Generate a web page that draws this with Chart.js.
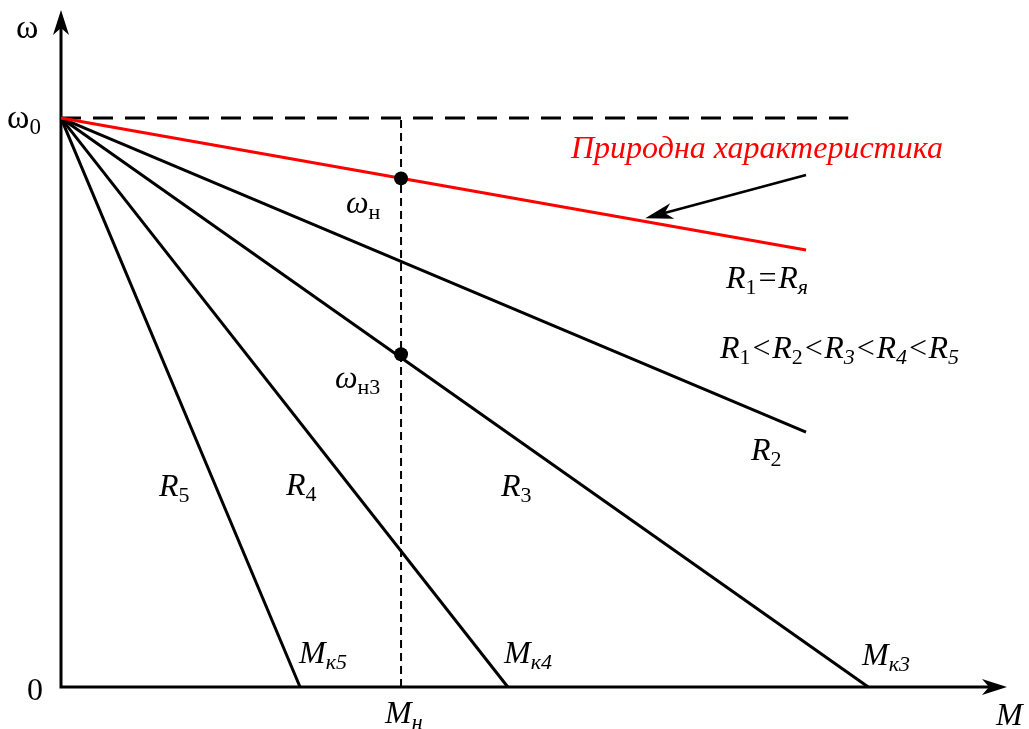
<!DOCTYPE html>
<html>
<head>
<meta charset="utf-8">
<script src="https://cdn.jsdelivr.net/npm/chart.js@4/dist/chart.umd.min.js"></script>
<style>
  html, body { margin: 0; padding: 0; background: #fff; }
  #wrap { width: 1029px; height: 729px; }
</style>
</head>
<body>
<div id="wrap"><canvas id="chart"></canvas></div>
<script>
// speed in units of ω0, torque in units of Mн
var omega0 = 1.0;
var ratedTorque = 1.0;
var lineNames = ['R1', 'R2', 'R3', 'R4', 'R5'];
var endTorque = [2.191, 2.191, 2.374, 1.314, 0.703];
var endSpeed = [0.768, 0.448, 0, 0, 0];
var lineColors = ['#ff0000', '#000000', '#000000', '#000000', '#000000'];
var ratedPointSpeed = [0.894, 0.585];   // ωн on R1, ωн3 on R3
var idealEndTorque = 2.315;             // dashed ω0 line
var axisEnd = { M: 2.782, w: 1.19 };
var pointerTail = { M: 2.191, w: 0.900 };
var pointerTip = { M: 1.718, w: 0.824 };

var SERIF = '"Liberation Serif", "DejaVu Serif", serif';

var datasets = [];
// characteristics, red one is the natural one
for (var i = 0; i < lineNames.length; i++) {
  datasets.push({
    label: lineNames[i],
    data: [{ x: 0, y: omega0 }, { x: endTorque[i], y: endSpeed[i] }],
    borderColor: lineColors[i],
    borderWidth: 3,
    pointRadius: 0,
    clip: false
  });
}
datasets.push({
  label: 'ideal',
  data: [{ x: 0, y: omega0 }, { x: idealEndTorque, y: omega0 }],
  borderColor: '#000',
  borderWidth: 3,
  borderDash: [20, 12],
  pointRadius: 0,
  clip: false
});
datasets.push({
  label: 'rated',
  data: [{ x: ratedTorque, y: 0 }, { x: ratedTorque, y: omega0 }],
  borderColor: '#000',
  borderWidth: 2,
  borderDash: [8, 5],
  pointRadius: 0,
  clip: false
});
datasets.push({
  label: 'points',
  data: [{ x: ratedTorque, y: ratedPointSpeed[0] }, { x: ratedTorque, y: ratedPointSpeed[1] }],
  showLine: false,
  pointRadius: 7,
  pointBackgroundColor: '#000',
  pointBorderWidth: 0,
  clip: false,
  order: -1
});

function arrowHead(ctx, x, y, ang, len, half) {
  ctx.save();
  ctx.translate(x, y);
  ctx.rotate(ang);
  ctx.beginPath();
  ctx.moveTo(0, 0);
  ctx.lineTo(-len, -half);
  ctx.lineTo(-len * 0.72, 0);
  ctx.lineTo(-len, half);
  ctx.closePath();
  ctx.fill();
  ctx.restore();
}

// text with subscripts: parts = [text, sub?, italic?]
function rich(ctx, x, y, parts, size, color) {
  ctx.save();
  ctx.fillStyle = color || '#000';
  ctx.textBaseline = 'alphabetic';
  ctx.textAlign = 'left';
  var cx = x;
  parts.forEach(function(p) {
    var sz = p[1] ? Math.round(size * 0.68) : size;
    ctx.font = (p[2] ? 'italic ' : '') + sz + 'px ' + SERIF;
    ctx.fillText(p[0], cx, y + (p[1] ? size * 0.18 : 0));
    cx += ctx.measureText(p[0]).width;
  });
  ctx.restore();
}

var axesPlugin = {
  id: 'axes',
  beforeDatasetsDraw: function(chart) {
    var ctx = chart.ctx, xs = chart.scales.x, ys = chart.scales.y;
    var x0 = xs.getPixelForValue(0), y0 = ys.getPixelForValue(0);
    var xe = xs.getPixelForValue(axisEnd.M), ye = ys.getPixelForValue(axisEnd.w);
    ctx.save();
    ctx.strokeStyle = '#000';
    ctx.fillStyle = '#000';
    ctx.lineWidth = 3;
    ctx.beginPath();
    ctx.moveTo(x0, ye + 10);
    ctx.lineTo(x0, y0);
    ctx.lineTo(xe - 10, y0);
    ctx.stroke();
    arrowHead(ctx, x0, ye, -Math.PI / 2, 25, 8);
    arrowHead(ctx, xe, y0, 0, 25, 8);
    ctx.restore();
  },
  afterDraw: function(chart) {
    var ctx = chart.ctx, xs = chart.scales.x, ys = chart.scales.y;
    // pointer to the natural characteristic
    var tx = xs.getPixelForValue(pointerTip.M), ty = ys.getPixelForValue(pointerTip.w);
    var sx = xs.getPixelForValue(pointerTail.M), sy = ys.getPixelForValue(pointerTail.w);
    var ang = Math.atan2(ty - sy, tx - sx);
    ctx.save();
    ctx.strokeStyle = '#000';
    ctx.fillStyle = '#000';
    ctx.lineWidth = 2.5;
    ctx.beginPath();
    ctx.moveTo(sx, sy);
    ctx.lineTo(tx - 20 * Math.cos(ang), ty - 20 * Math.sin(ang));
    ctx.stroke();
    arrowHead(ctx, tx, ty, ang, 28, 8);
    ctx.restore();

    var S = 32;
    rich(ctx, 16, 38, [['ω', 0, 0]], 34);
    rich(ctx, 7, 128, [['ω', 0, 0], ['0', 1, 0]], 34);
    rich(ctx, 27, 700, [['0', 0, 0]], S);
    rich(ctx, 385, 723, [['M', 0, 1], ['н', 1, 1]], S);
    rich(ctx, 996, 725, [['M', 0, 1]], S);
    rich(ctx, 299, 663, [['M', 0, 1], ['к5', 1, 1]], S);
    rich(ctx, 504, 663, [['M', 0, 1], ['к4', 1, 1]], S);
    rich(ctx, 862, 665, [['M', 0, 1], ['к3', 1, 1]], S);
    rich(ctx, 346, 213, [['ω', 0, 1], ['н', 1, 0]], S);
    rich(ctx, 335, 388, [['ω', 0, 1], ['н3', 1, 0]], S);
    rich(ctx, 571, 158, [['Природна характеристика', 0, 1]], S, '#ff0000');
    rich(ctx, 726, 288, [['R', 0, 1], ['1', 1, 0], ['=R', 0, 1], ['я', 1, 1]], S);
    rich(ctx, 720, 358, [['R', 0, 1], ['1', 1, 0], ['<R', 0, 1], ['2', 1, 0], ['<R', 0, 1], ['3', 1, 1],
      ['<R', 0, 1], ['4', 1, 1], ['<R', 0, 1], ['5', 1, 1]], S);
    rich(ctx, 751, 460, [['R', 0, 1], ['2', 1, 0]], S);
    rich(ctx, 501, 496, [['R', 0, 1], ['3', 1, 0]], S);
    rich(ctx, 286, 495, [['R', 0, 1], ['4', 1, 0]], S);
    rich(ctx, 159, 496, [['R', 0, 1], ['5', 1, 0]], S);
  }
};

new Chart(document.getElementById('chart').getContext('2d'), {
  type: 'line',
  data: { datasets: datasets },
  options: {
    responsive: true,
    maintainAspectRatio: false,
    animation: false,
    events: [],
    layout: { padding: { left: 61, right: 22, top: 10, bottom: 42 } },
    scales: {
      x: { type: 'linear', min: 0, max: axisEnd.M, display: false },
      y: { type: 'linear', min: 0, max: axisEnd.w, display: false }
    },
    plugins: { legend: { display: false }, tooltip: { enabled: false } }
  },
  plugins: [axesPlugin]
});
</script>
</body>
</html>
